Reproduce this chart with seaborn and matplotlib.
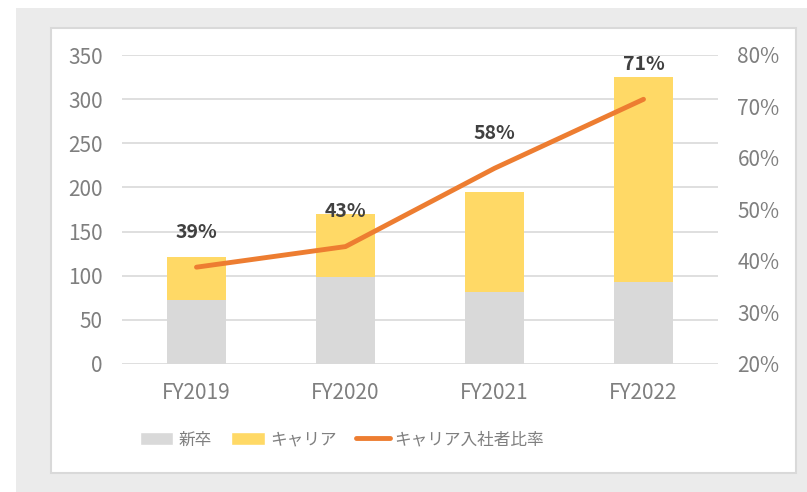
import numpy as np
import pandas as pd
import matplotlib
matplotlib.use("Agg")
import matplotlib.pyplot as plt
import seaborn as sns
from matplotlib.patches import Rectangle, Patch
from matplotlib.lines import Line2D
from matplotlib.ticker import PercentFormatter

years = ["FY2019", "FY2020", "FY2021", "FY2022"]
new_grad = [73, 98, 82, 93]
career = [48, 72, 113, 232]
career_ratio = [0.388, 0.428, 0.58, 0.714]
ratio_labels = ["39%", "43%", "58%", "71%"]

df = pd.DataFrame({"year": years, "new": new_grad, "career": career})
df["total"] = df["new"] + df["career"]

sns.set_style("white")
plt.rcParams["font.family"] = ["Liberation Sans Narrow", "Noto Sans CJK JP", "DejaVu Sans"]

W, H = 807, 492
fig = plt.figure(figsize=(W / 100, H / 100), dpi=100)
fig.patch.set_facecolor("white")

# gray surround and white chart box
fig.patches.append(Rectangle((16 / W, 0), 1 - 16 / W, 1 - 8 / H, transform=fig.transFigure,
                             fc="#ebebeb", ec="none", zorder=-3))
fig.patches.append(Rectangle((51 / W, (H - 473) / H), (796 - 51) / W, (473 - 28) / H,
                             transform=fig.transFigure, fc="white", ec="#d9d9d9", lw=1.5, zorder=-2))

ax = fig.add_axes([122 / W, (H - 364) / H, 596 / W, 309 / H])
ax.patch.set_alpha(0)

sns.barplot(data=df, x="year", y="total", color="#ffd966", width=0.4, saturation=1,
            errorbar=None, linewidth=0, ax=ax)
sns.barplot(data=df, x="year", y="new", color="#d9d9d9", width=0.4, saturation=1,
            errorbar=None, linewidth=0, ax=ax)

ax.set_ylim(0, 350)
ax.set_yticks(range(0, 351, 50))
ax.yaxis.grid(True, color="#d9d9d9", lw=1.2)
ax.xaxis.grid(False)
ax.set_axisbelow(True)
for s in ax.spines.values():
    s.set_visible(False)
ax.set_xlabel("")
ax.set_ylabel("")
ax.tick_params(axis="both", length=0, labelsize=15, labelcolor="#7f7f7f")
ax.tick_params(axis="y", pad=14)
ax.tick_params(axis="x", pad=13)

ax2 = ax.twinx()
sns.lineplot(x=np.arange(len(years)), y=career_ratio, color="#ed7d31", lw=3.5,
             solid_capstyle="round", ax=ax2)
ax2.set_ylim(0.2, 0.8)
ax2.set_yticks(np.arange(0.2, 0.81, 0.1))
ax2.yaxis.set_major_formatter(PercentFormatter(1.0, decimals=0))
ax2.tick_params(axis="y", length=0, labelsize=15, labelcolor="#7f7f7f", pad=14)
ax2.grid(False)
for s in ax2.spines.values():
    s.set_visible(False)
ax2.set_ylabel("")
ax.set_xlim(-0.5, 3.5)

for i, (r, lab) in enumerate(zip(career_ratio, ratio_labels)):
    ax2.annotate(lab, (i, r), xytext=(0, 25), textcoords="offset points",
                 ha="center", va="center", fontsize=14, fontweight="bold", color="#404040")

handles = [Patch(fc="#d9d9d9"), Patch(fc="#ffd966"),
           Line2D([], [], color="#ed7d31", lw=3.5, solid_capstyle="round")]
fig.legend(handles, ["新卒", "キャリア", "キャリア入社者比率"], loc="center",
           bbox_to_anchor=(342 / W, 1 - 440 / H), ncol=3, frameon=False, fontsize=12,
           labelcolor="#7f7f7f", handlelength=2.0, handleheight=0.8, handletextpad=0.3,
           columnspacing=1.2)

fig.savefig("out.png", dpi=100)
